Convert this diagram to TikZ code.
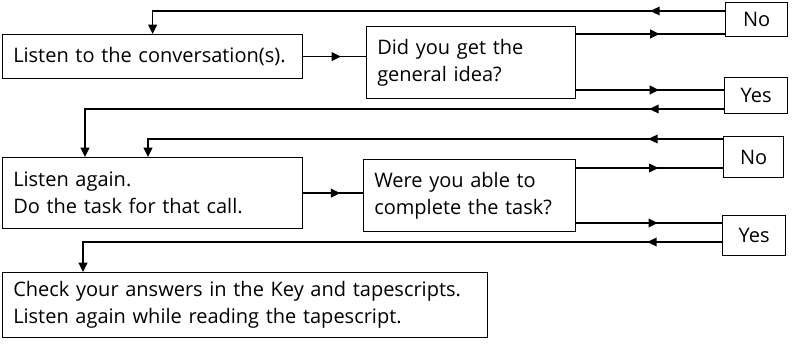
\documentclass[tikz,border=0pt]{standalone}
\usepackage{fontspec}
\setmainfont{Open Sans}
\usetikzlibrary{arrows.meta,decorations.markings}
\tikzset{box/.style={draw,line width=.9pt,anchor=north west,inner xsep=8pt,inner ysep=0pt,align=left,font=\fontsize{15}{20.5}\selectfont},answer/.style={draw,line width=.9pt,anchor=north west,inner sep=0pt,align=center,font=\fontsize{15}{17}\selectfont},link/.style={line width=1.25pt},midtip/.style={postaction={decorate},decoration={markings,mark=at position #1 with {\arrow{Triangle[length=7pt,width=6.5pt]}}}},midtip/.default=.56,backtip/.style={postaction={decorate},decoration={markings,mark=at position 56pt with {\arrow{Triangle[length=7pt,width=6.5pt]}}}},down/.style={-{Triangle[length=7pt,width=6.5pt]}}}

\begin{document}
\begin{tikzpicture}[x=.75pt,y=-.75pt]
\path[use as bounding box] (0,0) rectangle (792,349);
% boxes
\node[box,text width=209pt,minimum height=33pt] (listen) at (2,34) {Listen to the conversation(s).};
\node[box,text width=140.75pt,minimum height=54pt] (idea) at (366,26) {Did you get the\\general idea?};
\node[answer,minimum width=46.5pt,minimum height=25.5pt] (no1) at (725,2) {No};
\node[answer,minimum width=47.25pt,minimum height=27pt] (yes1) at (724,77) {Yes};
\node[box,text width=209pt,minimum height=53.25pt] (again) at (2,157) {Listen again.\\Do the task for that call.};
\node[box,text width=143pt,minimum height=54pt] (task) at (363,159) {Were you able to\\complete the task?};
\node[answer,minimum width=45pt,minimum height=30.75pt] (no2) at (723,136) {No};
\node[answer,minimum width=47.25pt,minimum height=30pt] (yes2) at (722,215) {Yes};
\node[box,text width=347.75pt,minimum height=48.75pt] (check) at (2,272) {Check your answers in the Key and tapescripts.\\Listen again while reading the tapescript.};
% rows of the lines
\coordinate (r1) at (0,11);
\coordinate (r2) at (0,34);
\coordinate (r3) at (0,90);
\coordinate (r4) at (0,109);
\coordinate (r5) at (0,139);
\coordinate (r6) at (0,168);
\coordinate (r7) at (0,223);
\coordinate (r8) at (0,242);
\coordinate (drop1) at (85,0);
\coordinate (drop2) at (148,0);
\coordinate (drop3) at (83,0);
% first question
\draw[link,midtip=.6] (listen.east) -- (idea.west |- listen.east);
\draw[link,midtip] (idea.east |- r2) -- (no1.west |- r2);
\draw[link,midtip] (idea.east |- r3) -- (yes1.west |- r3);
\draw[link,backtip,down] (no1.west |- r1) -| (listen.north);
\draw[link,backtip,down] (yes1.west |- r4) -| (drop1 |- again.north);
% second question
\draw[link,midtip=.62] (again.east) -- (task.west |- again.east);
\draw[link,midtip] (task.east |- r6) -- (no2.west |- r6);
\draw[link,midtip] (task.east |- r7) -- (yes2.west |- r7);
\draw[link,backtip,down] (no2.west |- r5) -| (drop2 |- again.north);
\draw[link,backtip,down] (yes2.west |- r8) -| (drop3 |- check.north);
\end{tikzpicture}
\end{document}
